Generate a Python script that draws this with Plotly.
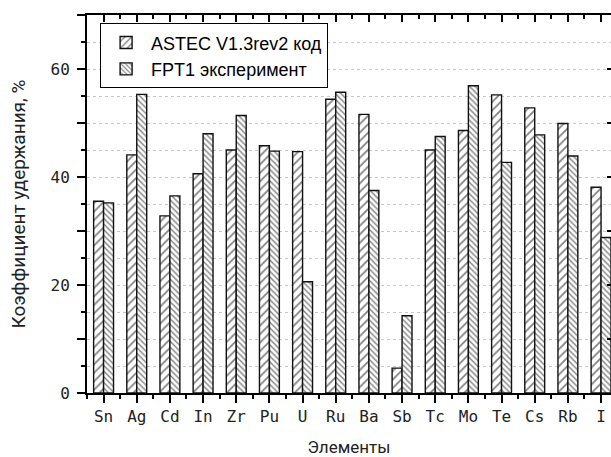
import plotly.graph_objects as go

elements = ["Sn", "Ag", "Cd", "In", "Zr", "Pu", "U", "Ru", "Ba", "Sb", "Tc", "Mo", "Te", "Cs", "Rb", "I"]
astec = [35.5, 44.1, 32.8, 40.6, 45.0, 45.8, 44.7, 54.4, 51.6, 4.6, 45.0, 48.6, 55.2, 52.8, 49.9, 38.1]
fpt1 = [35.2, 55.3, 36.5, 48.0, 51.4, 44.8, 20.6, 55.7, 37.5, 14.3, 47.5, 56.9, 42.7, 47.8, 43.9, 28.8]
y_major = [0, 10, 20, 30, 40, 50, 60, 70]
y_labels = ["0", "", "20", "", "40", "", "60", ""]

pos = list(range(len(elements)))
half = [-0.5] + [p + 0.5 for p in pos]

fig = go.Figure()
fig.add_trace(go.Bar(
    x=pos, y=astec, name="ASTEC V1.3rev2 код",
    marker=dict(color="white", line=dict(color="#111", width=1.4),
                pattern=dict(shape="/", fgcolor="black", bgcolor="white", size=6, solidity=0.28)),
))
fig.add_trace(go.Bar(
    x=pos, y=fpt1, name="FPT1 эксперимент",
    marker=dict(color="white", line=dict(color="#111", width=1.4),
                pattern=dict(shape="\\", fgcolor="black", bgcolor="white", size=4, solidity=0.35)),
))
# dummy for top/right axes
fig.add_trace(go.Scatter(x=[0], y=[0], xaxis="x2", yaxis="y2", mode="markers",
                         marker=dict(opacity=0), showlegend=False, hoverinfo="skip"))

xr = [-0.5, 15.3]
fig.update_layout(
    width=611, height=457,
    margin=dict(l=87, r=0, t=15, b=64),
    paper_bgcolor="white", plot_bgcolor="white",
    barmode="group", bargap=0.4, bargroupgap=0,
    showlegend=True,
    legend=dict(x=0.025, y=0.978, xanchor="left", yanchor="top",
                bordercolor="black", borderwidth=1, bgcolor="white",
                font=dict(family="Liberation Sans", size=18, color="black"),
                tracegroupgap=0, itemwidth=40),
    xaxis=dict(range=xr, tickmode="array", tickvals=pos, ticktext=elements,
               ticks="outside", ticklen=8, tickwidth=1.5, tickcolor="black",
               showline=True, linecolor="black", linewidth=2,
               showgrid=False, zeroline=False,
               minor=dict(tickvals=half, ticks="outside", ticklen=4, tickwidth=1.5, tickcolor="black", showgrid=False),
               tickfont=dict(family="DejaVu Sans Mono", size=16, color="#222"),
               title=dict(text="Элементы", font=dict(family="Roboto", size=17, color="#222"), standoff=16)),
    yaxis=dict(range=[0, 70], tickmode="array", tickvals=y_major, ticktext=y_labels,
               ticks="outside", ticklen=8, tickwidth=1.5, tickcolor="black",
               showline=True, linecolor="black", linewidth=2,
               showgrid=True, gridcolor="#c8c8c8", griddash="dot", gridwidth=1, zeroline=False,
               minor=dict(dtick=5, tick0=0, ticks="outside", ticklen=4, tickwidth=1.5, tickcolor="black",
                          showgrid=True, gridcolor="#c8c8c8", griddash="dot", gridwidth=1),
               ticklabelstandoff=4,
               tickfont=dict(family="DejaVu Sans Mono", size=16, color="#222"),
               title=dict(text="Коэффициент удержания, %", font=dict(family="Roboto", size=19, color="#222"), standoff=20)),
    xaxis2=dict(overlaying="x", side="top", range=xr, tickmode="array", tickvals=pos, ticktext=[""] * len(pos),
                ticks="inside", ticklen=7, tickwidth=1.5, tickcolor="black",
                showline=True, linecolor="black", linewidth=2, showgrid=False, zeroline=False,
                minor=dict(tickvals=half, ticks="inside", ticklen=4, tickwidth=1.5, tickcolor="black", showgrid=False)),
    yaxis2=dict(overlaying="y", side="right", range=[0, 70], tickmode="array", tickvals=y_major,
                ticktext=[""] * len(y_major), ticks="inside", ticklen=4, tickwidth=1.5, tickcolor="black",
                showline=True, linecolor="black", linewidth=2, showgrid=False, zeroline=False),
)

fig.write_html("out.html")
